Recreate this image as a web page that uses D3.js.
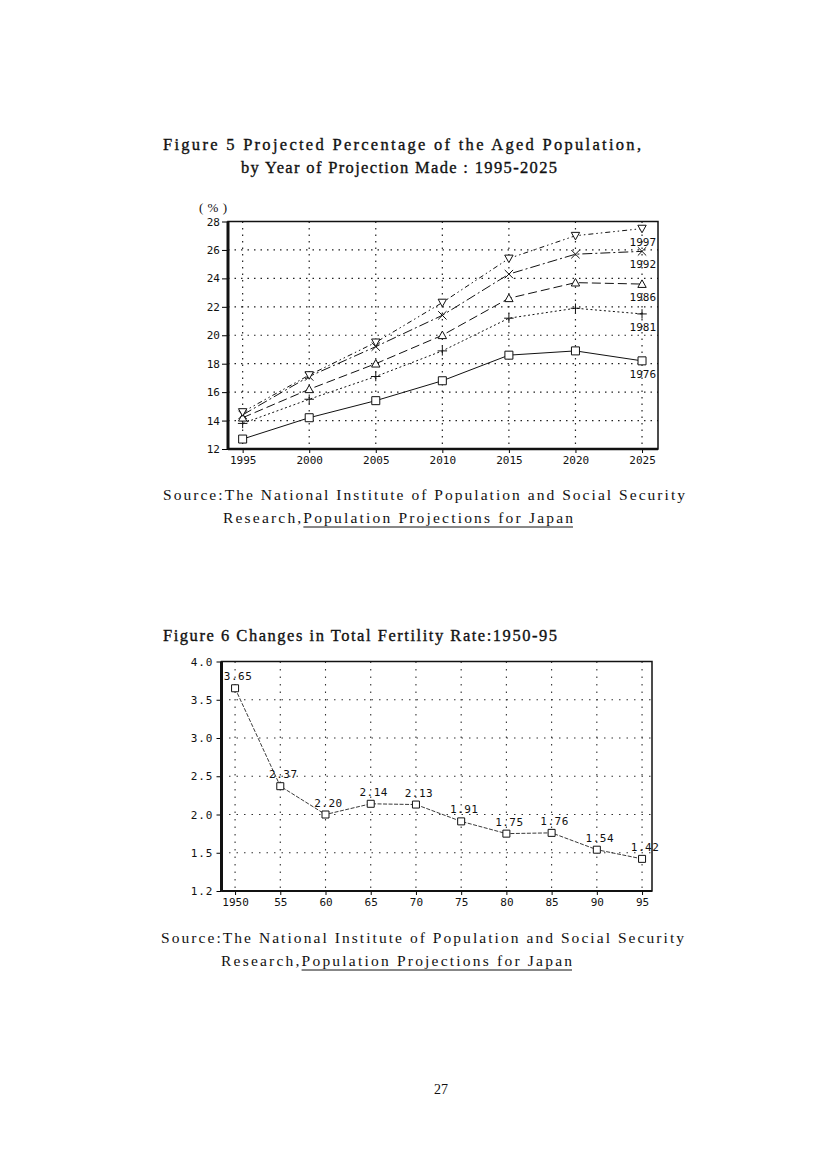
<!DOCTYPE html>
<html>
<head>
<meta charset="utf-8">
<script src="https://cdn.jsdelivr.net/npm/d3@7"></script>
<style>
  html, body { margin: 0; padding: 0; background: #fff; }
  svg { display: block; }
  .doc { font-family: "Liberation Serif", "DejaVu Serif", serif; fill: #111; }
  .title { stroke: #111; stroke-width: 0.35; }
  .tick-label { font-family: "DejaVu Sans Mono", monospace; font-size: 11px; fill: #111; }
</style>
</head>
<body>
<svg id="page" width="827" height="1170"></svg>
<script>
// ---- Figure 5 data ----
const years5 = [1995, 2000, 2005, 2010, 2015, 2020, 2025];
const yTicks5 = [12, 14, 16, 18, 20, 22, 24, 26, 28];
const seriesNames5 = ["1976", "1981", "1986", "1992", "1997"];
const proj1976 = [12.7, 14.2, 15.4, 16.8, 18.6, 18.9, 18.2];
const proj1981 = [13.8, 15.5, 17.1, 18.9, 21.2, 21.9, 21.5];
const proj1986 = [14.2, 16.2, 18.0, 20.0, 22.6, 23.7, 23.6];
const proj1992 = [14.4, 17.1, 19.2, 21.4, 24.3, 25.7, 25.9];
const proj1997 = [14.6, 17.2, 19.5, 22.3, 25.4, 27.0, 27.5];

// ---- Figure 6 data ----
const years6 = [1950, 1955, 1960, 1965, 1970, 1975, 1980, 1985, 1990, 1995];
const xLabels6 = ["1950", "55", "60", "65", "70", "75", "80", "85", "90", "95"];
const tfr = [3.65, 2.37, 2.00, 2.14, 2.13, 1.91, 1.75, 1.76, 1.54, 1.42];
const tfrLabels = ["3.65", "2.37", "2.20", "2.14", "2.13", "1.91", "1.75", "1.76", "1.54", "1.42"];
const yTicks6 = [1.0, 1.5, 2.0, 2.5, 3.0, 3.5, 4.0];
const yTickLabels6 = ["1.2", "1.5", "2.0", "2.5", "3.0", "3.5", "4.0"];

const svg = d3.select("#page");
svg.append("rect").attr("width", 827).attr("height", 1170).attr("fill", "#fff");

// custom marker shapes
const markers = {
    square: { draw(ctx, s) { const r = Math.sqrt(s) / 2; ctx.rect(-r, -r, 2 * r, 2 * r); } },
    plus: { draw(ctx, s) { const r = Math.sqrt(s) / 2; ctx.moveTo(-r, 0); ctx.lineTo(r, 0); ctx.moveTo(0, -r); ctx.lineTo(0, r); } },
    triUp: { draw(ctx, s) { const r = Math.sqrt(s) / 2; ctx.moveTo(0, -r); ctx.lineTo(r, r * 0.8); ctx.lineTo(-r, r * 0.8); ctx.closePath(); } },
    times: { draw(ctx, s) { const r = Math.sqrt(s) / 2; ctx.moveTo(-r, -r); ctx.lineTo(r, r); ctx.moveTo(r, -r); ctx.lineTo(-r, r); } },
    triDown: { draw(ctx, s) { const r = Math.sqrt(s) / 2; ctx.moveTo(0, r); ctx.lineTo(r, -r * 0.8); ctx.lineTo(-r, -r * 0.8); ctx.closePath(); } }
};

function docText(x, y, str, len, size) {
    const t = svg.append("text").attr("class", "doc")
        .attr("x", x).attr("y", y)
        .attr("font-size", size)
        .text(str);
    if (len) t.attr("textLength", len).attr("lengthAdjust", "spacing");
    return t;
}

function sourceBlock(y, x1, len1, x2, len2) {
    docText(x1, y, "Source:The National Institute of Population and Social Security", len1, 15.5);
    const t = docText(x2, y + 23, "Research,Population Projections for Japan", len2, 15.5);
    const node = t.node();
    const start = node.getStartPositionOfChar(9).x;
    const end = node.getEndPositionOfChar(node.getNumberOfChars() - 1).x;
    svg.append("line")
        .attr("x1", start).attr("x2", end)
        .attr("y1", y + 27).attr("y2", y + 27)
        .attr("stroke", "#111").attr("stroke-width", 1);
}

// ================= Figure 5 =================
docText(163, 150, "Figure 5  Projected Percentage of the Aged Population,", 478, 16.5).classed("title", true);
docText(241, 173, "by Year of Projection Made : 1995-2025", 316, 16.5).classed("title", true);
docText(199, 212, "(%)", 28, 13);

const x5 = d3.scaleLinear().domain([1993.9, 2026.2]).range([228, 658]);
const y5 = d3.scaleLinear().domain([12, 28]).range([449, 221.5]);

const g5 = svg.append("g");

// grid
g5.selectAll(".vgrid").data(years5).join("line")
    .attr("x1", d => x5(d)).attr("x2", d => x5(d))
    .attr("y1", y5(28)).attr("y2", y5(12))
    .attr("stroke", "#222").attr("stroke-width", 1.2).attr("stroke-dasharray", "1.5,5");
g5.selectAll(".hgrid").data(yTicks5.slice(1, -1)).join("line")
    .attr("x1", x5.range()[0]).attr("x2", x5.range()[1])
    .attr("y1", d => y5(d)).attr("y2", d => y5(d))
    .attr("stroke", "#222").attr("stroke-width", 1.2).attr("stroke-dasharray", "1.5,5");

// axes
const ax5 = d3.axisLeft(y5).tickValues(yTicks5).tickSize(6).tickPadding(2).tickFormat(d3.format("d"));
g5.append("g").attr("transform", `translate(${x5.range()[0]},0)`).call(ax5)
    .call(g => g.select(".domain").remove())
    .call(g => g.selectAll("text").attr("class", "tick-label").attr("font-family", null).attr("font-size", null));
const bx5 = d3.axisBottom(x5).tickValues(years5).tickSize(4).tickPadding(3).tickFormat(d3.format("d"));
g5.append("g").attr("transform", `translate(0,${y5.range()[0]})`).call(bx5)
    .call(g => g.select(".domain").remove())
    .call(g => g.selectAll("text").attr("class", "tick-label").attr("font-family", null).attr("font-size", null));

// frame
g5.append("rect")
    .attr("x", x5.range()[0]).attr("y", y5.range()[1])
    .attr("width", x5.range()[1] - x5.range()[0]).attr("height", y5.range()[0] - y5.range()[1])
    .attr("fill", "none").attr("stroke", "#111").attr("stroke-width", 1.5);
g5.append("line").attr("x1", x5.range()[0]).attr("x2", x5.range()[0])
    .attr("y1", y5.range()[1]).attr("y2", y5.range()[0])
    .attr("stroke", "#111").attr("stroke-width", 3);
g5.append("line").attr("x1", x5.range()[0]).attr("x2", x5.range()[1])
    .attr("y1", y5.range()[0]).attr("y2", y5.range()[0])
    .attr("stroke", "#111").attr("stroke-width", 2.5);

const series5 = [
    { name: seriesNames5[0], values: proj1976, dash: null, marker: markers.square, size: 64 },
    { name: seriesNames5[1], values: proj1981, dash: "2,2.5", marker: markers.plus, size: 90 },
    { name: seriesNames5[2], values: proj1986, dash: "9,4", marker: markers.triUp, size: 70 },
    { name: seriesNames5[3], values: proj1992, dash: "10,3,2,3", marker: markers.times, size: 70 },
    { name: seriesNames5[4], values: proj1997, dash: "5,3,1.5,3,1.5,3", marker: markers.triDown, size: 70 }
];

const line5 = d3.line().x((d, i) => x5(years5[i])).y(d => y5(d));
series5.forEach(s => {
    g5.append("path")
        .attr("d", line5(s.values))
        .attr("fill", "none").attr("stroke", "#111").attr("stroke-width", 1)
        .attr("stroke-dasharray", s.dash);
    g5.selectAll(null).data(s.values).join("path")
        .attr("transform", (d, i) => `translate(${x5(years5[i])},${y5(d)})`)
        .attr("d", d3.symbol(s.marker, s.size))
        .attr("fill", "#fff").attr("stroke", "#111").attr("stroke-width", 1);
    const last = s.values[s.values.length - 1];
    g5.append("text").attr("class", "tick-label")
        .attr("x", x5(years5[years5.length - 1]) + 14)
        .attr("y", y5(last) + 14)
        .attr("text-anchor", "end").attr("dominant-baseline", "middle")
        .text(s.name);
});

sourceBlock(500, 163, 522, 223, 350);

// ================= Figure 6 =================
docText(163, 641, "Figure 6  Changes in Total Fertility Rate:1950-95", 394, 16.5).classed("title", true);

const x6 = d3.scaleLinear().domain([1948.5, 1996.1]).range([221.5, 652]);
const y6 = d3.scaleLinear().domain([1.0, 4.0]).range([891, 661.5]);

const g6 = svg.append("g");
g6.selectAll(".vgrid").data(years6).join("line")
    .attr("x1", d => x6(d)).attr("x2", d => x6(d))
    .attr("y1", y6(4.0)).attr("y2", y6(1.0))
    .attr("stroke", "#333").attr("stroke-width", 1.1).attr("stroke-dasharray", "1.5,6");
g6.selectAll(".hgrid").data(yTicks6.slice(1, -1)).join("line")
    .attr("x1", x6.range()[0]).attr("x2", x6.range()[1])
    .attr("y1", d => y6(d)).attr("y2", d => y6(d))
    .attr("stroke", "#333").attr("stroke-width", 1.1).attr("stroke-dasharray", "1.5,6");

const ax6 = d3.axisLeft(y6).tickValues(yTicks6).tickSize(5).tickPadding(3)
    .tickFormat((d, i) => yTickLabels6[i]);
g6.append("g").attr("transform", `translate(${x6.range()[0]},0)`).call(ax6)
    .call(g => g.select(".domain").remove())
    .call(g => g.selectAll("text").attr("class", "tick-label").attr("font-family", null).attr("font-size", null)
        .attr("letter-spacing", 1).attr("fill", "#444"));
const bx6 = d3.axisBottom(x6).tickValues(years6).tickSize(4).tickPadding(3)
    .tickFormat((d, i) => xLabels6[i]);
g6.append("g").attr("transform", `translate(0,${y6.range()[0]})`).call(bx6)
    .call(g => g.select(".domain").remove())
    .call(g => g.selectAll("text").attr("class", "tick-label").attr("font-family", null).attr("font-size", null)
        .attr("fill", "#444"));

g6.append("rect")
    .attr("x", x6.range()[0]).attr("y", y6.range()[1])
    .attr("width", x6.range()[1] - x6.range()[0]).attr("height", y6.range()[0] - y6.range()[1])
    .attr("fill", "none").attr("stroke", "#111").attr("stroke-width", 1.5);
g6.append("line").attr("x1", x6.range()[0]).attr("x2", x6.range()[0])
    .attr("y1", y6.range()[1]).attr("y2", y6.range()[0])
    .attr("stroke", "#111").attr("stroke-width", 3);
g6.append("line").attr("x1", x6.range()[0]).attr("x2", x6.range()[1])
    .attr("y1", y6.range()[0]).attr("y2", y6.range()[0])
    .attr("stroke", "#111").attr("stroke-width", 2);

const line6 = d3.line().x((d, i) => x6(years6[i])).y(d => y6(d));
g6.append("path")
    .attr("d", line6(tfr))
    .attr("fill", "none").attr("stroke", "#222").attr("stroke-width", 0.9)
    .attr("stroke-dasharray", "4,1.5");
g6.selectAll(".pt").data(tfr).join("path")
    .attr("transform", (d, i) => `translate(${x6(years6[i])},${y6(d)})`)
    .attr("d", d3.symbol(markers.square, 49))
    .attr("fill", "#fff").attr("stroke", "#111").attr("stroke-width", 1);
g6.selectAll(".val").data(tfr).join("text")
    .attr("class", "tick-label")
    .attr("x", (d, i) => x6(years6[i]) + 3)
    .attr("y", d => y6(d) - 11)
    .attr("text-anchor", "middle").attr("dominant-baseline", "middle")
    .attr("letter-spacing", 0.5).attr("fill", "#444")
    .text((d, i) => tfrLabels[i]);

sourceBlock(943, 161, 523, 221, 351);

// page number
docText(441, 1094, "27", null, 14).attr("text-anchor", "middle");
</script>
</body>
</html>
